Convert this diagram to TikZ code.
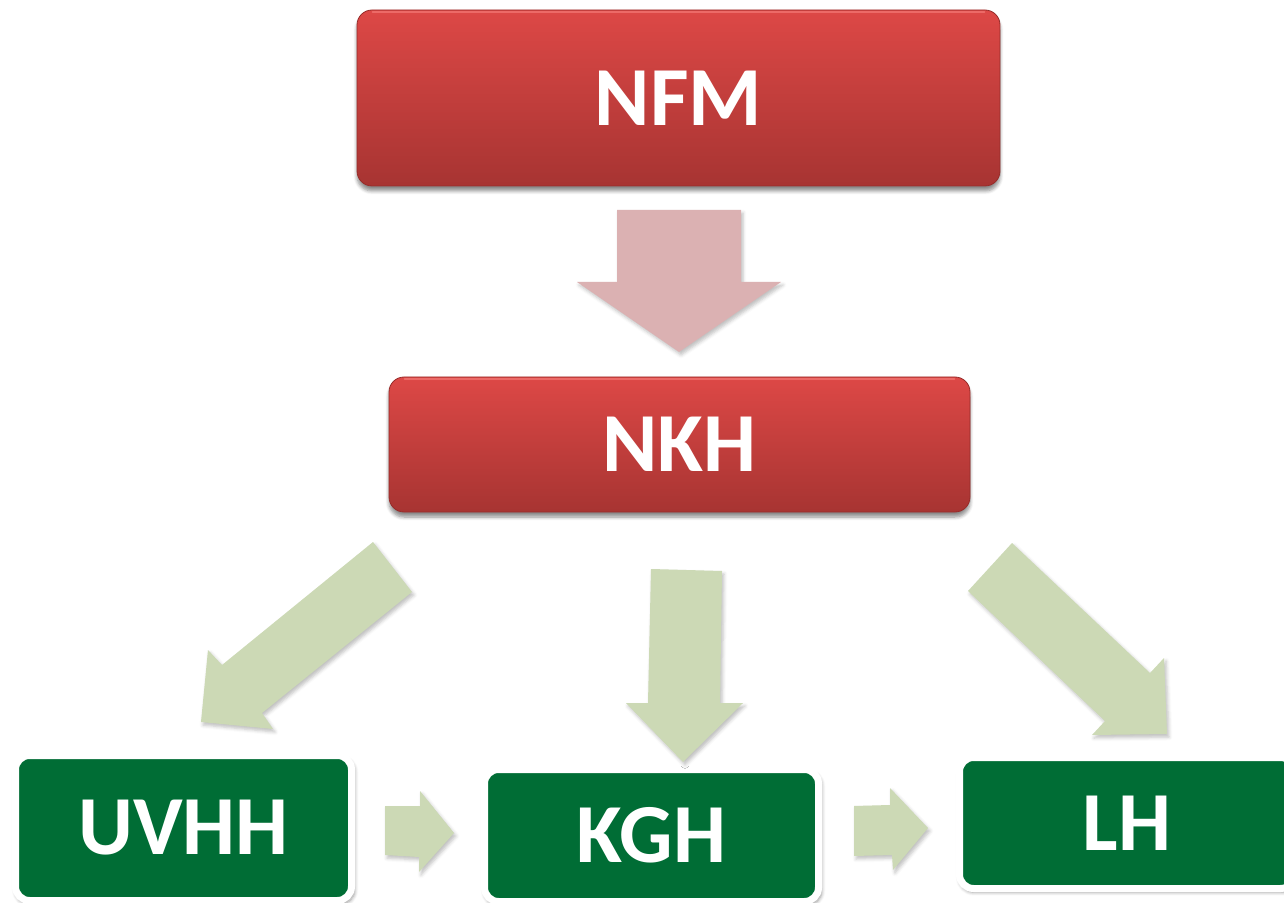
\documentclass[tikz,border=0pt]{standalone}
\usepackage{fontspec}
\newfontfamily\boxfont{Carlito}
\usetikzlibrary{shadows.blur}
\definecolor{redtop}{HTML}{DD4846}
\definecolor{redbot}{HTML}{A73432}
\definecolor{rededge}{HTML}{962C2A}
\definecolor{redhi}{HTML}{F07370}
\definecolor{pinkarrow}{HTML}{DBB1B2}
\definecolor{sage}{HTML}{CCD9B5}
\definecolor{boxgreen}{HTML}{006D35}
\tikzset{
  boxtext/.style={text=white, inner sep=0pt, font=\boxfont\bfseries\fontsize{42}{50}\selectfont},
  redbox/.style={boxtext, rounded corners=7.5pt, top color=redtop, bottom color=redbot,
    draw=rededge, line width=0.4pt,
    blur shadow={shadow xshift=0pt, shadow yshift=-2.5pt, shadow blur steps=6, shadow opacity=45}},
  redhighlight/.style={draw=redhi, line width=1pt, line cap=round, opacity=0.8},
  greenbox/.style={boxtext, rounded corners=7pt, fill=boxgreen, draw=white, line width=3.5pt,
    blur shadow={shadow xshift=0.8pt, shadow yshift=-1.5pt, shadow blur steps=5, shadow opacity=40, shadow scale=1.01}},
  sagearrow/.style={fill=sage,
    blur shadow={shadow xshift=1pt, shadow yshift=-1.5pt, shadow blur steps=4, shadow opacity=25}},
  pinkblock/.style={fill=pinkarrow,
    blur shadow={shadow xshift=1pt, shadow yshift=-1.5pt, shadow blur steps=4, shadow opacity=25}},
}
\begin{document}
\begin{tikzpicture}[x=0.5pt,y=-0.5pt]
\useasboundingbox (0,0) rectangle (1284,903);
\clip (0,0) rectangle (1284,903);
% red boxes
\node[redbox, minimum width=321.5pt, minimum height=88pt] (nfm) at (678.5,98) {NFM};
\node[redbox, minimum width=290.5pt, minimum height=67.5pt] (nkh) at (679.5,444.5) {NKH};
\draw[redhighlight] ([xshift=8pt,yshift=-1pt]nfm.north west) -- ([xshift=-8pt,yshift=-1pt]nfm.north east);
\draw[redhighlight] ([xshift=8pt,yshift=-1pt]nkh.north west) -- ([xshift=-8pt,yshift=-1pt]nkh.north east);
% pink arrow
\path[pinkblock] (617,210) -- (741,210) -- (741,282) -- (781,282) -- (679,352)
  -- (577,282) -- (617,282) -- cycle;
% green boxes
\node[greenbox, minimum width=168pt, minimum height=72.5pt] (uvhh) at (183.5,828) {UVHH};
\node[greenbox, minimum width=167pt, minimum height=66pt] (kgh) at (651.5,835.5) {KGH};
\node[greenbox, minimum width=167.5pt, minimum height=65.5pt] (lh) at (1127,823) {LH};
% sage arrows from NKH
\path[sagearrow] (373,542) -- (412,592) -- (262,713) -- (273,729) -- (201,722)
  -- (208,650) -- (222,665) -- cycle;
\path[sagearrow] (651,569) -- (722,571) -- (720,703) -- (743,703) -- (683,762)
  -- (626,703) -- (648,703) -- cycle;
\path[sagearrow] (1012,543) -- (1150,673) -- (1164,658) -- (1167,734) -- (1092,735)
  -- (1105,721) -- (968,591) -- cycle;
% small arrows between green boxes
\path[sagearrow] (385,806) -- (420,806) -- (420,791) -- (454,833) -- (419,872)
  -- (419,857) -- (385,855) -- cycle;
\path[sagearrow] (854,806) -- (890,805) -- (890,788) -- (928,828) -- (893,870)
  -- (892,855) -- (854,856) -- cycle;
\end{tikzpicture}
\end{document}
